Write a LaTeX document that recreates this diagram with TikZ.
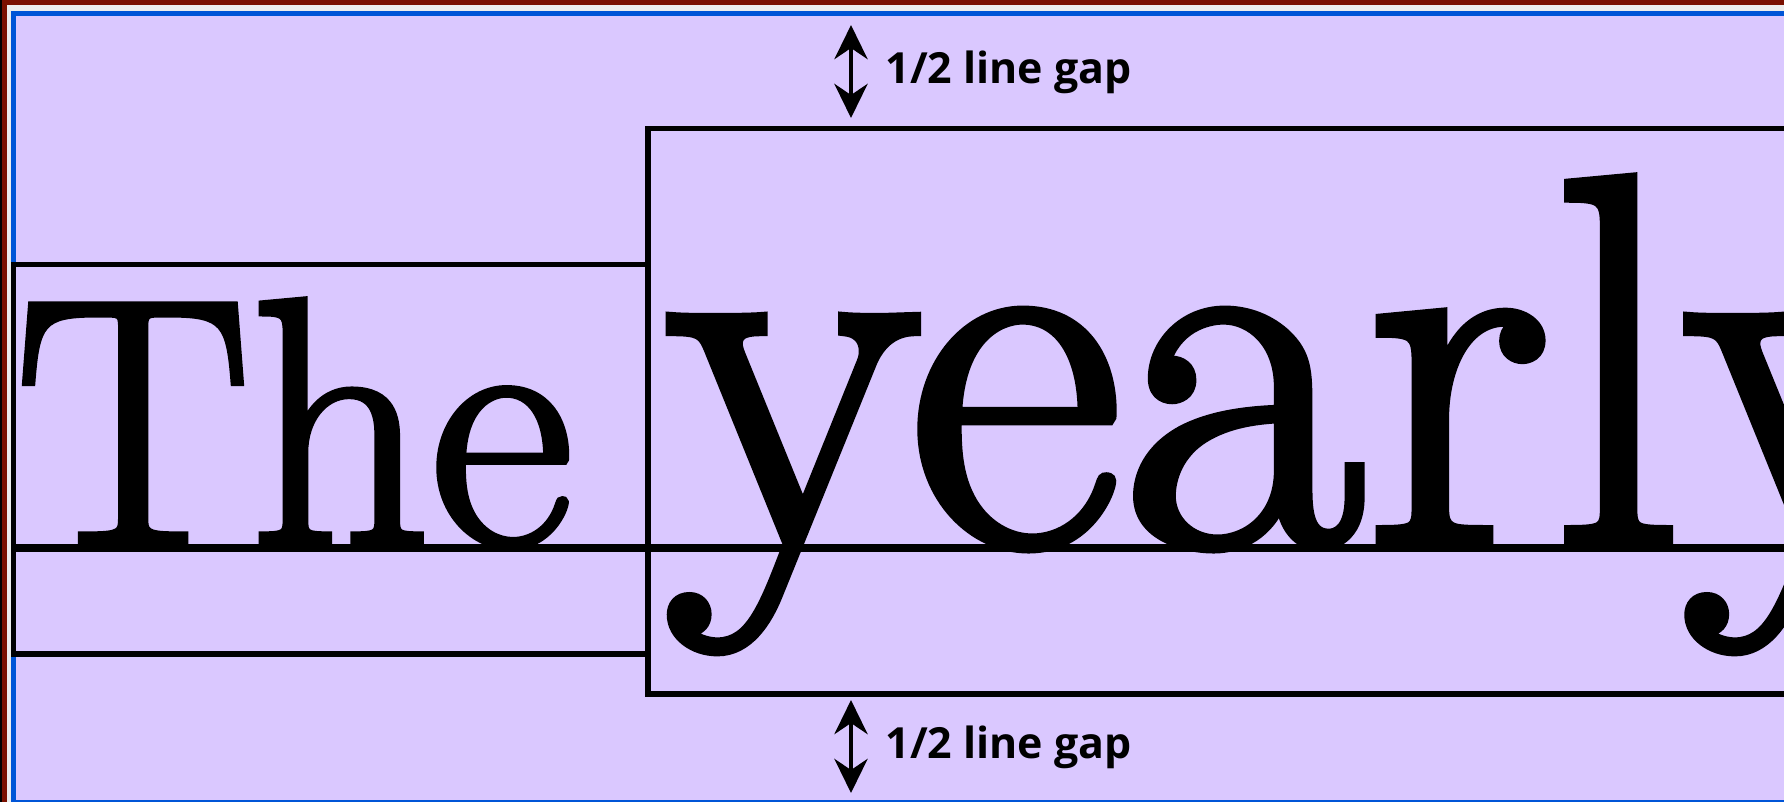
\documentclass[tikz,border=0pt]{standalone}
\usepackage{fontspec}
\newfontfamily\specimenfont[FakeBold=2]{Latin Modern Roman}
\newfontfamily\notefont{Open Sans}
\usepackage{tikz}
\usetikzlibrary{arrows.meta, positioning}

\definecolor{framered}{RGB}{122,16,0}
\definecolor{framegray}{RGB}{236,236,236}
\definecolor{frameblue}{RGB}{0,85,215}
\definecolor{lavender}{RGB}{218,200,255}

\begin{document}
\begin{tikzpicture}[
    x=0.01cm, y=-0.01cm,
    linebox/.style={draw=black, line width=1.5pt},
    baserule/.style={draw=black, line width=2pt},
    gaparrow/.style={{Stealth[length=3.4mm, width=3.3mm, inset=1.1mm]}-{Stealth[length=3.4mm, width=3.3mm, inset=1.1mm]}, line width=1.4pt},
    gaplabel/.style={inner sep=0pt, font=\notefont\bfseries\fontsize{12.2}{14}\selectfont},
    smallword/.style={inner sep=0pt, font=\specimenfont\fontsize{100}{110}\selectfont},
    bigword/.style={inner sep=0pt, font=\specimenfont\fontsize{150}{160}\selectfont}
]
\useasboundingbox (0,0) rectangle (1784,802);
\clip (0,0) rectangle (1784,802);

% frame
\fill[black] (0,0) rectangle (1784,802);
\fill[framered] (2,0) rectangle (1784,802);
\fill[framegray] (7,5) rectangle (1784,802);
\fill[frameblue] (11,11) rectangle (1784,802);
\fill[lavender] (16,16) rectangle (1784,800);

% words on the baseline
\node[smallword, anchor=base west] (the) at (15,544) {The};
\node[bigword, anchor=base west] (yearly) at (665,544) {yearly};

% line boxes
\draw[linebox] (13.5,264.5) rectangle (648,654);
\draw[linebox] (648,128.5) rectangle (1800,694);
\draw[baserule] (13.5,548) -- (1800,548);

% half line gaps
\coordinate (topgapA) at (851,25);
\coordinate (topgapB) at (851,118);
\coordinate (botgapA) at (851,700);
\coordinate (botgapB) at (851,793);
\draw[gaparrow] (topgapA) -- (topgapB);
\draw[gaparrow] (botgapA) -- (botgapB);
\node[gaplabel, anchor=base west] (topnote) at (885,83) {1/2 line gap};
\node[gaplabel, anchor=base west] (botnote) at (885,758) {1/2 line gap};

\end{tikzpicture}
\end{document}
